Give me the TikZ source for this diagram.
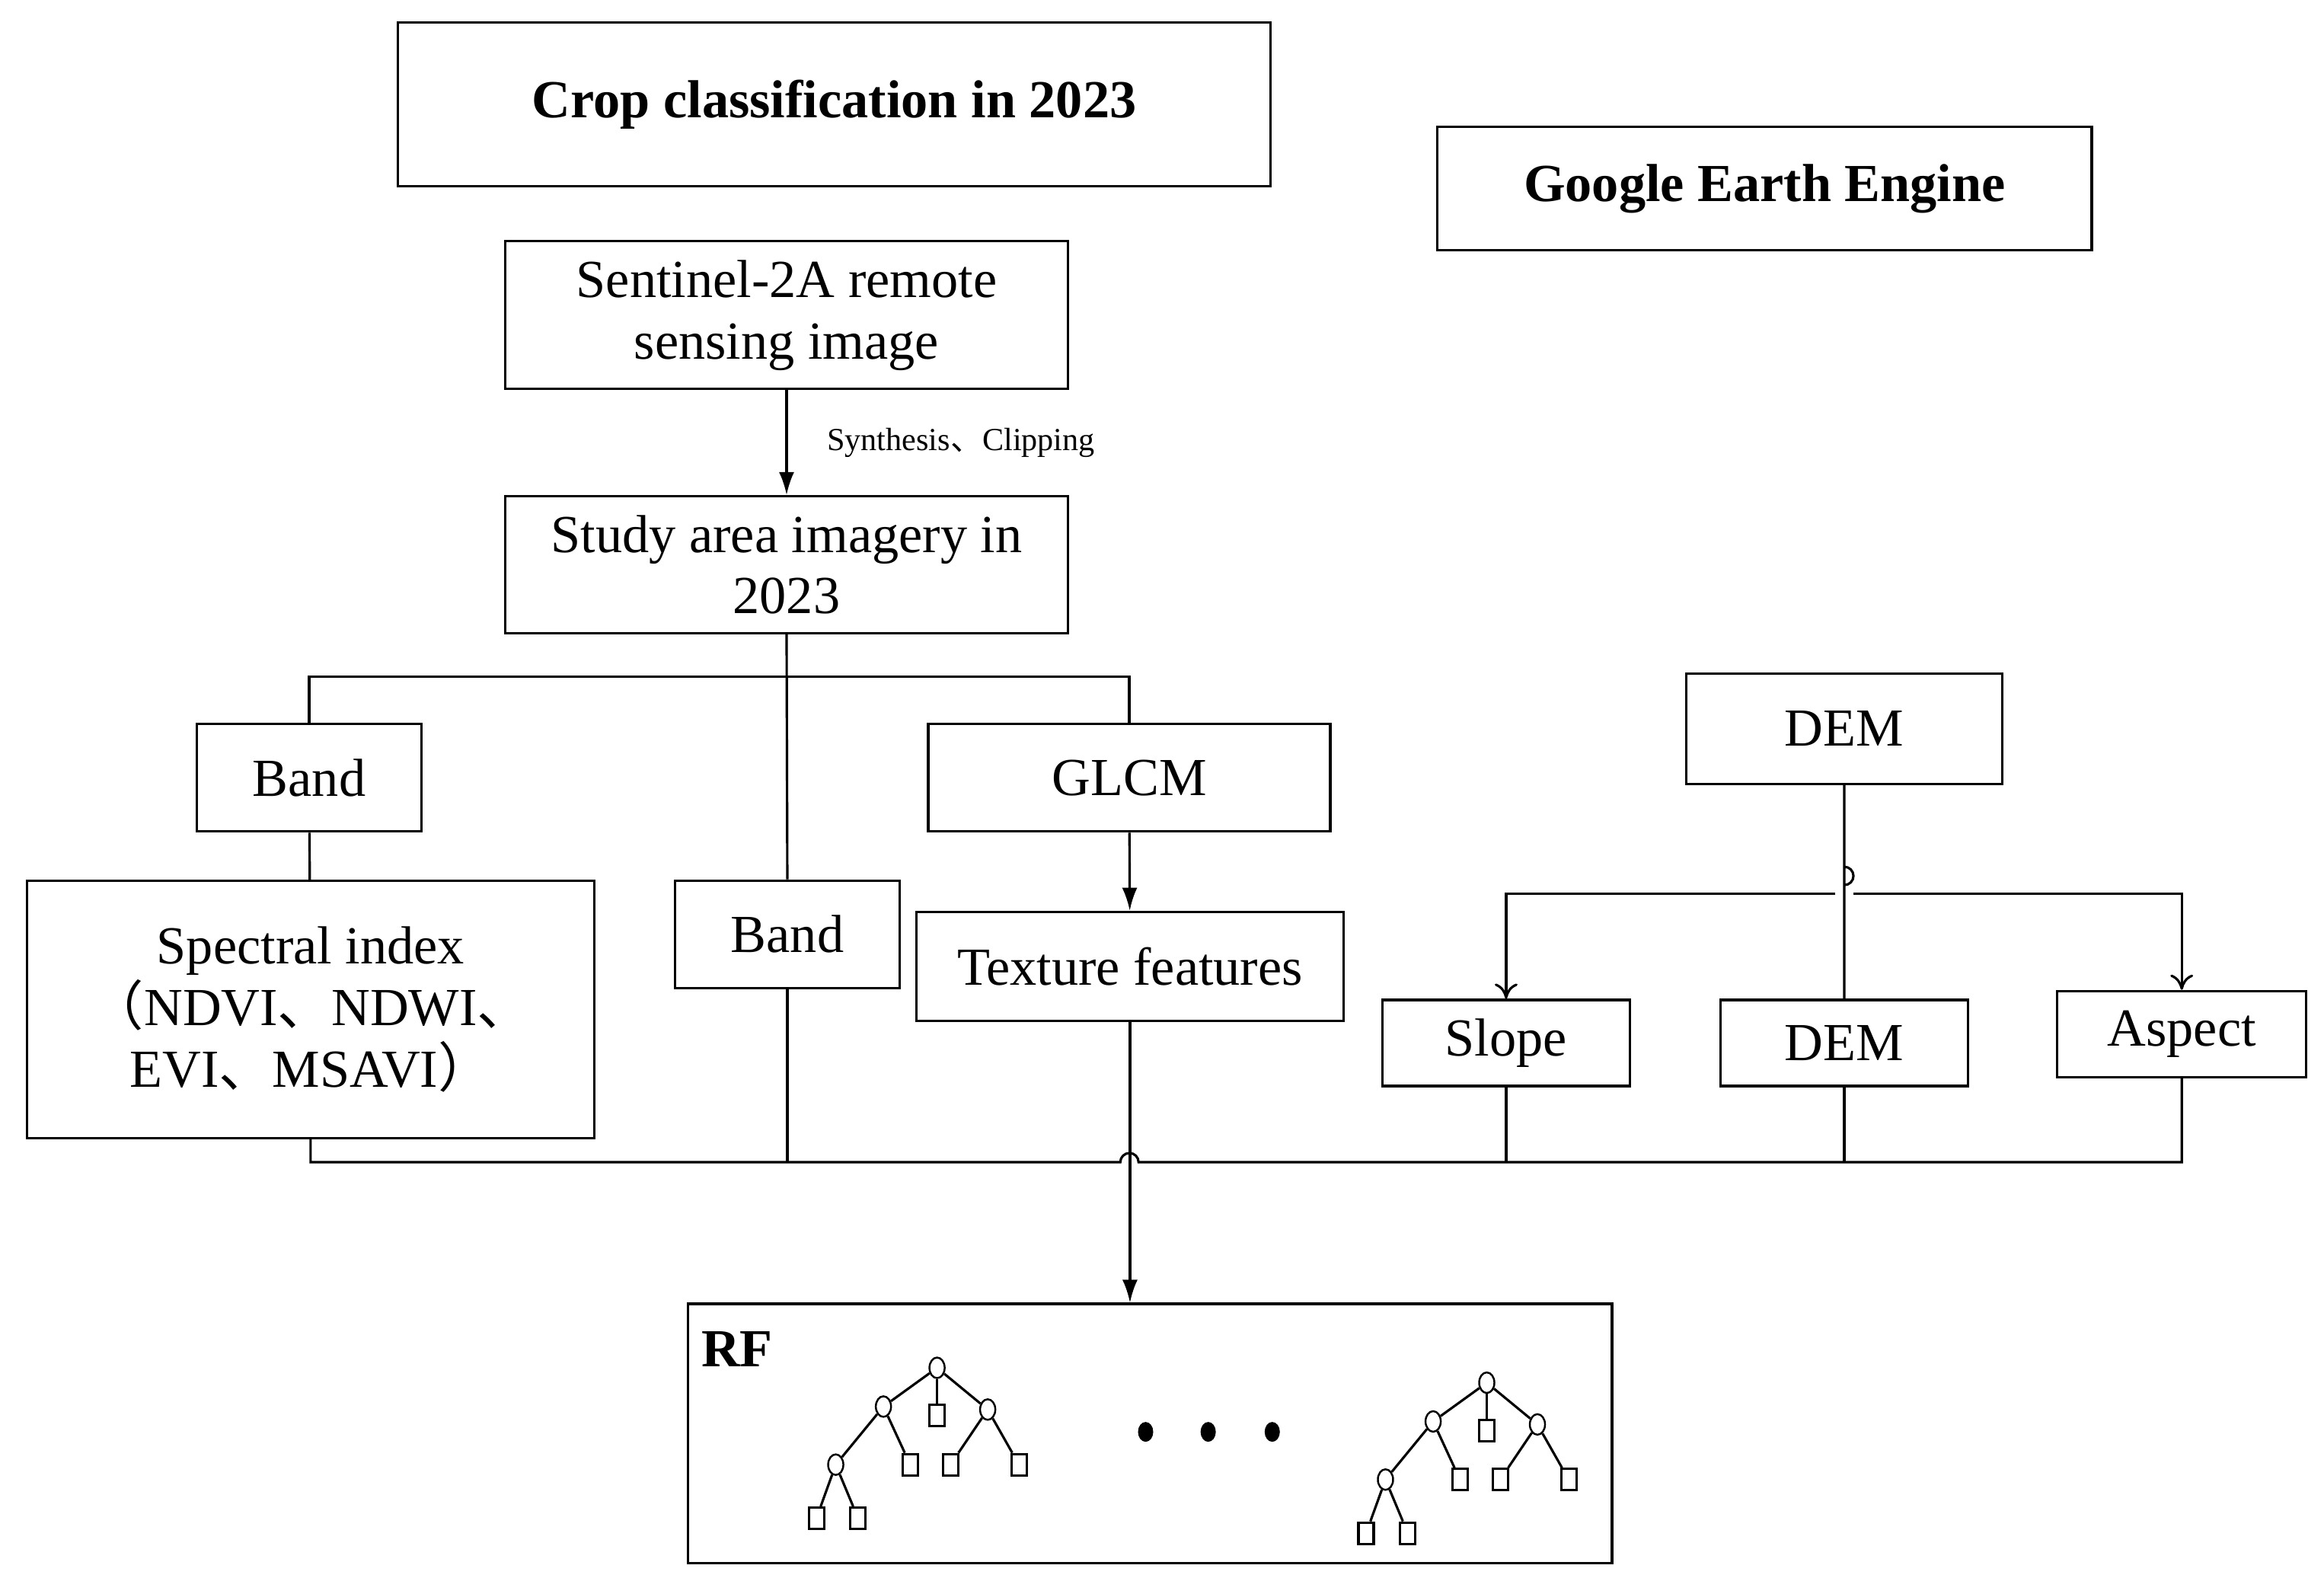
\documentclass[tikz,border=0pt]{standalone}
\usepackage{fontspec}
\setmainfont{Liberation Serif}
\newfontfamily\cjk{Noto Sans CJK SC}
\usetikzlibrary{arrows.meta,shapes.geometric}
\newcommand{\dn}{{\cjk 、}}
% one decision tree, #1 = name prefix, #2 = root position
\newcommand{\rftree}[2]{%
	\begin{scope}[shift={#2}]
		\node[nd] (#1r) at (0,0) {};
		\node[nd] (#1a) at (-36,26) {};
		\node[lf] (#1b) at (0,32) {};
		\node[nd] (#1c) at (34,28) {};
		\node[nd] (#1d) at (-68,65) {};
		\node[lf] (#1e) at (-18,65) {};
		\node[lf] (#1f) at (9,65) {};
		\node[lf] (#1g) at (55,65) {};
		\node[lf] (#1h) at (-81,101) {};
		\node[lf] (#1i) at (-53,101) {};
	\end{scope}
	\path [-](#1r) edge (#1a) edge (#1b) edge (#1c);
	\path [-](#1a) edge (#1d) edge (#1e);
	\path [-](#1c) edge (#1f) edge (#1g);
	\path [-](#1d) edge (#1h) edge (#1i);
}
\begin{document}
\begin{tikzpicture}[x=0.01956cm,y=-0.01956cm,line width=0.9pt,
	box/.style={draw,rectangle,align=center,inner sep=2pt,font=\fontsize{20}{23}\selectfont},
	nd/.style={draw,ellipse,minimum width=0.2cm,minimum height=0.27cm,inner sep=0,line width=0.7pt},
	lf/.style={draw,rectangle,minimum width=0.2cm,minimum height=0.28cm,inner sep=0,line width=0.9pt},
	arr/.style={-{Latex[length=0.3cm,width=0.2cm]}},
	oarr/.style={-{To[length=0.2cm,width=0.3cm]}}]
	\useasboundingbox (0,0) rectangle (1560,1059);
	\begin{scope}[every node/.style={box}]
		\node[minimum width=11.46cm,minimum height=2.15cm,font=\fontsize{20}{23}\selectfont\bfseries] (title) at (560,70) {Crop classification in 2023};
		\node[minimum width=8.59cm,minimum height=1.62cm,font=\fontsize{20}{23}\selectfont\bfseries] (gee) at (1184.5,126.5) {Google Earth Engine};
		\node[minimum width=7.39cm,minimum height=1.94cm] (s2) at (528,211.5) {Sentinel-2A remote\\sensing image};
		\node[minimum width=7.39cm,minimum height=1.80cm] (study) at (528,379) {Study area imagery in\\2023};
		\node[minimum width=2.95cm,minimum height=1.41cm] (band) at (207.5,522) {Band};
		\node[minimum width=7.45cm,minimum height=3.38cm] (spec) at (208.5,677.5) {Spectral index\\{\cjk （}NDVI\dn NDWI\dn\\EVI\dn MSAVI{\cjk ）}};
		\node[minimum width=2.95cm,minimum height=1.41cm] (band2) at (528.5,627) {Band};
		\node[minimum width=5.28cm,minimum height=1.41cm] (glcm) at (758,522) {GLCM};
		\node[minimum width=5.61cm,minimum height=1.43cm] (tex) at (758.5,648.5) {Texture features};
		\node[minimum width=4.15cm,minimum height=1.45cm] (dem) at (1238,489) {DEM};
		\node[minimum width=3.25cm,minimum height=1.13cm] (slope) at (1011,700) {Slope};
		\node[minimum width=3.25cm,minimum height=1.13cm] (dem2) at (1238,700) {DEM};
		\node[minimum width=3.27cm,minimum height=1.13cm] (aspect) at (1464.5,694) {Aspect};
		\node[minimum width=12.13cm,minimum height=3.40cm] (rf) at (772,962) {};
	\end{scope}
	\node[font=\fontsize{20}{23}\selectfont\bfseries,anchor=north west,inner sep=0] (rflabel) at (470,893) {RF};
	\coordinate (bus) at (0,780);
	\coordinate (split) at (0,454);
	\coordinate (demsplit) at (0,600);
	% upper part
	\draw[arr] (s2) -- node[right,font=\fontsize{12}{14}\selectfont,xshift=0.4cm] (synlabel) {Synthesis{\cjk 、}Clipping} (study);
	\draw (study.south) -- (band2.north);
	\draw (band.north) |- (glcm.north |- split) -- (glcm.north);
	\draw (band) -- (spec);
	\draw[arr] (glcm) -- (tex);
	% terrain
	\draw (dem.south) -- (1238,594) arc[start angle=-90,end angle=90,radius=0.12cm] -- (dem2.north);
	\draw[oarr] (1232,600) -| (slope.north);
	\draw[oarr] (1244,600) -| (aspect.north);
	% bus to the classifier
	\draw (spec.south) |- (752,780) arc[start angle=180,end angle=0,radius=0.12cm] -- (aspect.south |- bus) -- (aspect.south);
	\draw (band2.south) -- (band2.south |- bus);
	\draw (slope.south) -- (slope.south |- bus);
	\draw (dem2.south) -- (dem2.south |- bus);
	\draw[arr] (tex.south) -- (rf.north -| tex.south);
	% forest
	\rftree{p}{(629,918)}
	\rftree{q}{(998,928)}
	\foreach \x in {769,811,854}
		\fill (\x,961) ellipse (0.1cm and 0.13cm);
\end{tikzpicture}
\end{document}
